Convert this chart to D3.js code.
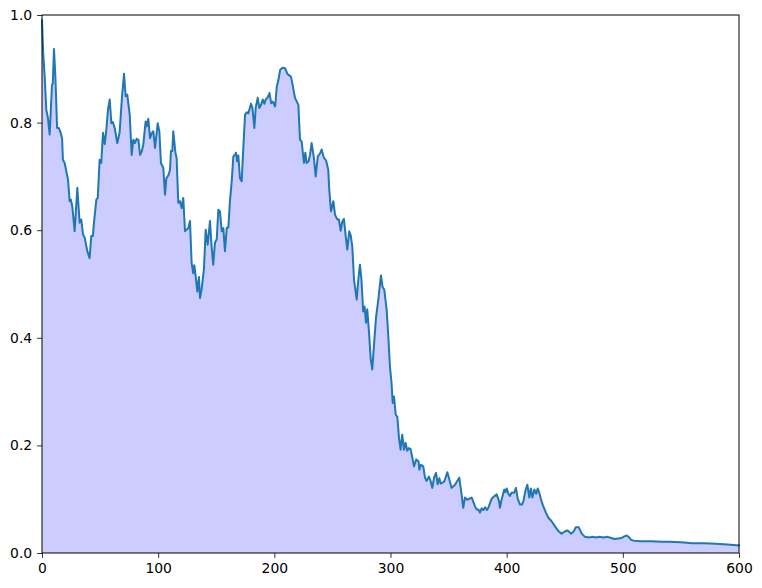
<!DOCTYPE html>
<html>
<head>
<meta charset="utf-8">
<script src="https://cdn.jsdelivr.net/npm/d3@7"></script>
<style>
  html, body { margin: 0; padding: 0; background: #fff; }
  svg { display: block; }
  .tick text { font-family: "DejaVu Sans", sans-serif; font-size: 13.9px; fill: #000; }
</style>
</head>
<body>
<svg id="chart" width="762" height="588"></svg>
<script>
const xs = [0,1,2.3,3.7,5,6.6,8.6,9.3,10.3,11.5,13,14.5,16.1,17.3,18,19.5,22.4,23.8,24.8,26.1,28.1,30.4,32.4,33.8,35.3,36.8,39,41,42.4,43.8,44.5,46.8,48,49.6,51,52.5,54,55.4,56.8,58.3,59.7,61,62.6,64.8,66.8,68.9,70.6,72,73.4,75.5,77.2,78.6,80,81.5,83,84.4,85.8,87.2,89.2,90.1,91.5,93,94.4,95.8,97.3,99.6,101,102.4,104.4,105.9,107,108.8,110.2,111,112.2,113,114.8,115.9,117.3,118.8,120.2,121.6,123.1,124.5,126,127.4,128.8,130.2,131.1,132.3,133.7,135.1,136,137.4,139.4,140.9,142.6,144.6,146,147.4,148.9,150.4,151.8,153.2,154.7,156.1,157.5,159,160.4,161.8,163.3,164.7,166,167,168,169,170.4,171.9,173.3,174.8,176.2,177.6,179.9,181.1,182.8,184,185.7,187.1,188.6,190,191.5,192.6,194.1,195.8,197.3,198.7,200.7,202.1,203.5,205,207,209.2,211.4,214,214.9,217.8,220.7,222.1,223.5,225.5,226.7,227.8,229.5,230.7,232.1,234.1,235.6,237.4,239.4,240.7,242.6,244.5,246.4,247.3,248.8,250.8,252.2,254.2,255.6,257.1,258.5,259.9,261.4,262.8,264.5,265.8,267.1,268.6,270.9,272.3,273.7,275,276.5,277.7,278.9,280,281.5,283,284.3,285.7,287.5,289.5,291.8,293.2,294.6,296.7,298.1,299.5,300.9,301.9,303,304.5,305.9,307.3,308.7,310.1,311.6,313,314.4,315.9,317.3,318.8,320.2,322.2,324.2,324.8,326.2,328.2,329.7,331,333.1,334.5,336,337.5,339.2,340.6,342,343.2,344.9,346.3,348.9,350.6,352.6,355.5,359.2,361.2,362.6,364.1,366,369.9,372.7,374.2,375.7,377,378.5,380,381.5,383,384.2,387.1,389,391.4,393.5,394.2,395.6,397.9,399,400.1,401.5,402.8,404.2,406.5,408,409.5,411.5,413.2,414.5,416.4,417.8,419.5,420.8,422.2,423.8,425.5,426.7,428.1,429.5,431.5,433.8,435.8,438.7,441.5,444.4,447.3,450,452.2,454,455.6,458,459.5,462,464.6,467.4,471,474,477,480,483,487,490,493,496,499,501.3,503.3,505,507,509,515,525,533.4,540,550,560,570,580,590,600];
const ys = [0.99,0.93,0.886,0.824,0.81,0.778,0.870,0.872,0.937,0.886,0.790,0.790,0.781,0.770,0.731,0.725,0.694,0.654,0.657,0.644,0.598,0.679,0.614,0.62,0.592,0.586,0.561,0.548,0.589,0.589,0.609,0.657,0.660,0.731,0.725,0.781,0.76,0.787,0.824,0.843,0.799,0.801,0.79,0.762,0.781,0.849,0.891,0.849,0.852,0.815,0.740,0.768,0.762,0.770,0.768,0.740,0.746,0.759,0.802,0.793,0.807,0.771,0.780,0.784,0.753,0.799,0.784,0.725,0.716,0.666,0.696,0.702,0.712,0.747,0.747,0.784,0.745,0.734,0.651,0.654,0.641,0.660,0.598,0.601,0.604,0.617,0.539,0.520,0.535,0.514,0.486,0.513,0.474,0.49,0.527,0.601,0.573,0.617,0.570,0.536,0.577,0.583,0.638,0.635,0.598,0.604,0.561,0.604,0.605,0.654,0.691,0.737,0.74,0.744,0.728,0.739,0.697,0.691,0.753,0.815,0.819,0.817,0.835,0.828,0.790,0.828,0.846,0.827,0.833,0.843,0.835,0.843,0.846,0.855,0.836,0.839,0.830,0.867,0.879,0.898,0.902,0.901,0.89,0.886,0.880,0.846,0.833,0.768,0.765,0.725,0.744,0.725,0.728,0.740,0.762,0.734,0.700,0.737,0.743,0.750,0.735,0.73,0.713,0.675,0.635,0.654,0.629,0.620,0.620,0.599,0.616,0.621,0.59,0.564,0.598,0.59,0.570,0.508,0.471,0.508,0.536,0.508,0.449,0.458,0.428,0.453,0.41,0.36,0.341,0.384,0.437,0.471,0.516,0.494,0.49,0.452,0.403,0.347,0.316,0.279,0.291,0.257,0.253,0.214,0.192,0.220,0.192,0.205,0.19,0.195,0.193,0.177,0.161,0.174,0.170,0.155,0.164,0.161,0.140,0.134,0.142,0.134,0.121,0.140,0.149,0.128,0.139,0.129,0.131,0.133,0.150,0.137,0.121,0.127,0.140,0.109,0.084,0.103,0.099,0.103,0.087,0.081,0.081,0.075,0.083,0.080,0.085,0.08,0.084,0.101,0.105,0.109,0.096,0.084,0.099,0.118,0.113,0.120,0.110,0.106,0.112,0.112,0.121,0.101,0.090,0.090,0.097,0.118,0.127,0.103,0.12,0.103,0.118,0.110,0.12,0.112,0.10,0.087,0.075,0.066,0.059,0.050,0.041,0.036,0.040,0.042,0.039,0.036,0.041,0.048,0.048,0.036,0.030,0.029,0.030,0.029,0.030,0.029,0.030,0.028,0.026,0.027,0.028,0.031,0.0325,0.030,0.025,0.023,0.022,0.022,0.021,0.021,0.020,0.018,0.018,0.017,0.016,0.014];
const xTicks = [0,100,200,300,400,500,600];
const yTicks = [0.0,0.2,0.4,0.6,0.8,1.0];

const data = xs.map((x, i) => ({x, y: ys[i]}));

const margin = {left: 42, right: 23, top: 15, bottom: 35};
const W = 762, H = 588;
const svg = d3.select("#chart");

const x = d3.scaleLinear().domain([0, 600]).range([margin.left, W - margin.right]);
const y = d3.scaleLinear().domain([0, 1]).range([H - margin.bottom, margin.top]);

svg.append("path")
  .datum(data)
  .attr("fill", "rgb(204,204,255)")
  .attr("d", d3.area().x(d => x(d.x)).y0(y(0)).y1(d => y(d.y)));

svg.append("path")
  .datum(data)
  .attr("fill", "none")
  .attr("stroke", "#1f77b4")
  .attr("stroke-width", 2)
  .attr("stroke-linejoin", "round")
  .attr("stroke-linecap", "square")
  .attr("d", d3.line().x(d => x(d.x)).y(d => y(d.y)));

// frame
svg.append("rect")
  .attr("x", margin.left).attr("y", margin.top)
  .attr("width", W - margin.left - margin.right)
  .attr("height", H - margin.top - margin.bottom)
  .attr("fill", "none").attr("stroke", "#000").attr("stroke-width", 1);

const xAxis = svg.append("g")
  .attr("transform", `translate(0,${H - margin.bottom})`)
  .call(d3.axisBottom(x).tickValues(xTicks).tickFormat(d3.format("d")).tickSize(4.9).tickPadding(4.9));
const yAxis = svg.append("g")
  .attr("transform", `translate(${margin.left},0)`)
  .call(d3.axisLeft(y).tickValues(yTicks).tickFormat(d3.format(".1f")).tickSize(4.9).tickPadding(4.9));
[xAxis, yAxis].forEach(g => {
  g.select(".domain").remove();
  g.selectAll(".tick line").attr("stroke", "#000").attr("stroke-width", 0.8);
  g.selectAll(".tick text").attr("font-family", null).attr("font-size", null);
});
</script>
</body>
</html>
